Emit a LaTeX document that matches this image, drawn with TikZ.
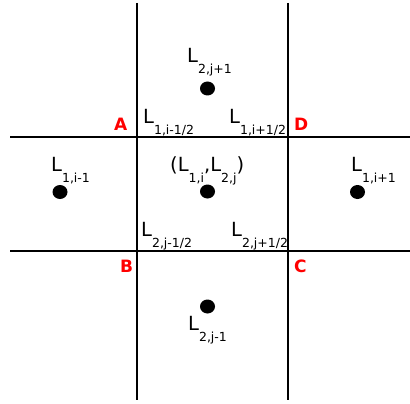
\documentclass[tikz,border=0pt]{standalone}
\usepackage{fontspec}
\setmainfont{DejaVu Sans}
\usetikzlibrary{shapes.geometric}
\newcommand{\subsize}{\fontsize{12.5}{12.5}\selectfont}
\newcommand{\lab}[1]{L\raisebox{-11pt}{\subsize #1}}

\begin{document}
\begin{tikzpicture}[x=1pt, y=-1pt,
    grid/.style={line width=1.8pt},
    dot/.style={ellipse, fill=black, minimum width=15pt, minimum height=14pt, inner sep=0pt},
    every node/.style={anchor=base west, inner sep=0pt, font=\fontsize{19.5}{19.5}\selectfont},
    corner/.style={text=red, font=\fontsize{17}{17}\selectfont\bfseries}]
        \useasboundingbox (0,0) rectangle (410,404);
        % grid lines
        \draw[grid] (137,3) -- (137,400);
        \draw[grid] (288,3) -- (288,400);
        \draw[grid] (10,137) -- (410,137);
        \draw[grid] (10,251) -- (410,251);
        % cell centres
        \node[dot, anchor=center] (top) at (207.5,88.5) {};
        \node[dot, anchor=center] (left) at (60,192) {};
        \node[dot, anchor=center] (mid) at (207.5,191.5) {};
        \node[dot, anchor=center] (right) at (357.5,192) {};
        \node[dot, anchor=center] (bottom) at (207.5,306.5) {};
        % labels
        \node (ltop) at (187,63) {\lab{2,j+1}};
        \node (lleft) at (51,171) {\lab{1,i-1}};
        \node (lright) at (351,171) {\lab{1,i+1}};
        \node (lbottom) at (188,330) {\lab{2,j-1}};
        \node (lmid) at (170,171) {(\lab{1,i},\lab{2,j})};
        \node (lnw) at (143,123) {\lab{1,i-1/2}};
        \node (lne) at (229,123) {\lab{1,i+1/2}};
        \node (lsw) at (141,236) {\lab{2,j-1/2}};
        \node (lse) at (231,236) {\lab{2,j+1/2}};
        % corners
        \node[corner] (A) at (114,130) {A};
        \node[corner] (D) at (294,130) {D};
        \node[corner] (B) at (120,272) {B};
        \node[corner] (C) at (294,272) {C};
      \end{tikzpicture}
\end{document}
